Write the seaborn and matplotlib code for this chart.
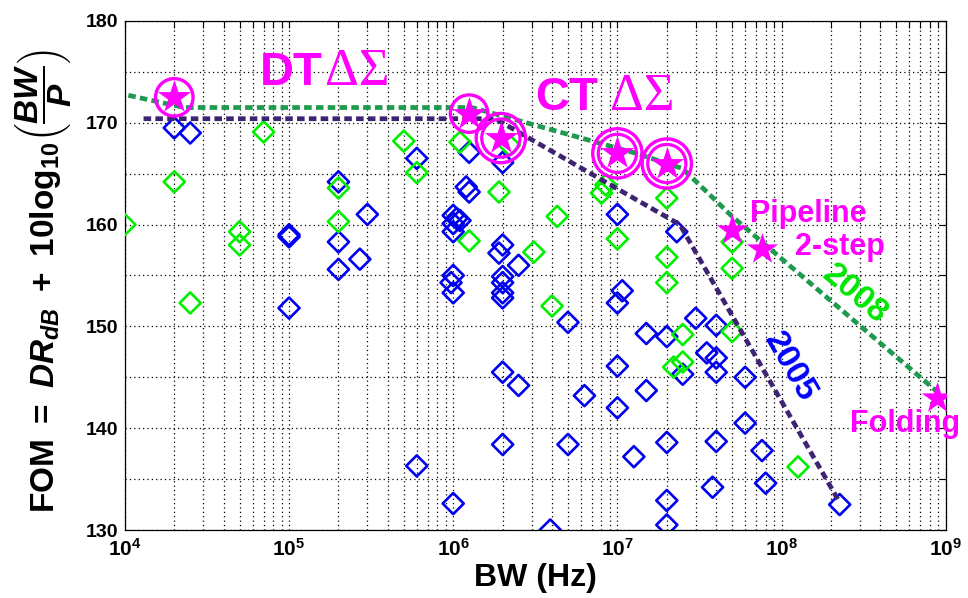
import matplotlib
matplotlib.use('Agg')
import matplotlib.pyplot as plt
from matplotlib.ticker import MultipleLocator, LogLocator
import seaborn as sns

# published ADCs (blue = older, green = newer)
blue_bw = [2e4, 2.5e4, 6e5, 1.25e6, 2e6, 2e5, 1.2e6, 1.25e6, 1e5, 1e5,
           2e5, 3e5, 2.7e5, 2e5, 1e6, 1.05e6, 1.1e6, 1e6, 1e6, 2e6,
           1.9e6, 2.5e6, 1e6, 2e6, 1e5, 0.97e6, 1e6, 2e6, 2e6, 2e6,
           2e6, 2.5e6, 2e6, 6e5, 1e6, 1e7, 2.3e7, 1.07e7, 1e7, 5e6,
           1.5e7, 2e7, 3e7, 4e7, 3.5e7, 4e7, 4e7, 2.5e7, 1e7, 6e7,
           6.3e6, 1.5e7, 1e7, 6e7, 5e6, 2e7, 4e7, 7.6e7, 1.26e7, 3.8e7,
           8e7, 2e7, 2.26e8, 3.9e6, 2e7]
blue_fom = [169.5, 169.0, 166.5, 167.1, 166.1, 164.2, 163.7, 163.2, 159.0, 158.8,
            158.3, 161.0, 156.6, 155.6, 160.9, 160.6, 160.4, 160.1, 159.3, 158.0,
            157.2, 156.0, 155.0, 154.9, 151.8, 154.3, 153.3, 154.3, 153.3, 152.8,
            145.5, 144.2, 138.4, 136.3, 132.6, 161.0, 159.3, 153.5, 152.3, 150.4,
            149.3, 149.0, 150.8, 150.1, 147.4, 146.9, 145.5, 145.3, 146.1, 145.0,
            143.2, 143.7, 142.0, 140.5, 138.4, 138.6, 138.7, 137.8, 137.2, 134.2,
            134.6, 132.9, 132.5, 130.0, 130.5]

green_bw = [7e4, 5e5, 6e5, 1.1e6, 2e4, 2e5, 1.9e6, 1e4, 5e4, 5e4,
            2e5, 1.25e6, 3.1e6, 2.5e4, 8e6, 8.5e6, 2e7, 4.3e6, 1e7, 2e7,
            5e7, 5e7, 2e7, 4e6, 2.5e7, 5e7, 2.2e7, 2.5e7, 1.26e8, 2.2e6]
green_fom = [169.1, 168.2, 165.1, 168.1, 164.2, 163.6, 163.2, 160.0, 159.3, 158.0,
             160.3, 158.4, 157.3, 152.3, 163.1, 163.9, 162.6, 160.8, 158.6, 156.8,
             158.3, 155.7, 154.3, 152.0, 149.2, 149.5, 146.0, 146.5, 136.2, 167.8]

# state-of-the-art envelopes
env05_bw = [1.3e4, 1.8e6, 2.4e7, 2.26e8]
env05_fom = [170.4, 170.4, 160.0, 132.7]
env08_bw = [1.05e4, 2.3e4, 1.3e6, 1.3e7, 2.5e7, 5e7, 9e8]
env08_fom = [172.7, 171.5, 171.5, 167.0, 165.5, 160.8, 143.5]

# highlighted delta-sigma designs
ring1_bw = [2e4, 1.25e6]
ring1_fom = [172.5, 170.9]
ring2_bw = [1.95e6, 1e7, 2e7]
ring2_fom = [168.5, 167.0, 166.0]
star_bw = ring1_bw + ring2_bw
star_fom = ring1_fom + ring2_fom
other_bw = [5e7, 7.6e7, 8.9e8]
other_fom = [159.5, 157.6, 143.0]

sns.set_style('white')
plt.rcParams['font.family'] = ['Liberation Sans', 'DejaVu Sans']
plt.rcParams['font.weight'] = 'bold'
plt.rcParams['axes.labelweight'] = 'bold'
plt.rcParams['text.color'] = 'black'
plt.rcParams['axes.labelcolor'] = 'black'
plt.rcParams['xtick.color'] = 'black'
plt.rcParams['ytick.color'] = 'black'
plt.rcParams['mathtext.fontset'] = 'custom'
plt.rcParams['mathtext.rm'] = 'Liberation Sans:bold'
plt.rcParams['mathtext.it'] = 'Liberation Sans:bold:italic'
plt.rcParams['mathtext.bf'] = 'Liberation Sans:bold'

magenta = '#ff00ff'

fig = plt.figure(figsize=(9.68, 5.98), dpi=100)
ax = fig.add_axes([0.129, 0.1137, 0.848, 0.8512])
ax.set_xscale('log')

sns.scatterplot(x=blue_bw, y=blue_fom, marker='D', s=115, facecolor='none',
                edgecolor='#0000f0', linewidth=1.9, ax=ax, zorder=3)
sns.scatterplot(x=green_bw, y=green_fom, marker='D', s=115, facecolor='none',
                edgecolor='#00f000', linewidth=1.9, ax=ax, zorder=3)

sns.lineplot(x=env05_bw, y=env05_fom, color='#3f2373', lw=3.4,
             linestyle=(0, (1.6, 0.9)), ax=ax, zorder=4)
sns.lineplot(x=env08_bw, y=env08_fom, color='#1e9a4e', lw=3.4,
             linestyle=(0, (1.6, 0.9)), ax=ax, zorder=4)

sns.scatterplot(x=ring1_bw, y=ring1_fom, marker='o', s=27**2, facecolor='none',
                edgecolor=magenta, linewidth=2.4, ax=ax, zorder=5)
sns.scatterplot(x=ring2_bw, y=ring2_fom, marker='o', s=27.5**2, facecolor='none',
                edgecolor=magenta, linewidth=2.3, ax=ax, zorder=5)
sns.scatterplot(x=ring2_bw, y=ring2_fom, marker='o', s=35.5**2, facecolor='none',
                edgecolor=magenta, linewidth=2.4, ax=ax, zorder=5)
sns.scatterplot(x=star_bw, y=star_fom, marker='*', s=640, color=magenta,
                linewidth=0, ax=ax, zorder=6)
sns.scatterplot(x=other_bw, y=other_fom, marker='*', s=560, color=magenta,
                linewidth=0, ax=ax, zorder=6)

ax.set_xlim(1e4, 1e9)
ax.set_ylim(130, 180)
ax.yaxis.set_major_locator(MultipleLocator(10))
ax.yaxis.set_minor_locator(MultipleLocator(5))
ax.xaxis.set_minor_locator(LogLocator(base=10, subs=range(2, 10), numticks=20))
ax.grid(which='both', color='black', linestyle=(0, (1, 2.5)), linewidth=0.9)
ax.set_axisbelow(True)
ax.tick_params(which='both', direction='in', top=True, right=True,
               length=5, width=0.8, color='black')
ax.tick_params(axis='x', labelsize=15, pad=6)
ax.tick_params(axis='y', labelsize=14, pad=5)
for sp in ax.spines.values():
    sp.set_color('black')
    sp.set_linewidth(0.9)

# annotations
ax.text(6.6e4, 173.7, 'DT', fontsize=34, color=magenta, weight='bold')
ax.text(1.65e5, 173.7, 'ΔΣ', fontsize=38, color=magenta, weight='normal',
        family='Liberation Serif')
ax.text(3.14e6, 171.3, 'CT', fontsize=34, color=magenta, weight='bold')
ax.text(9e6, 171.3, 'ΔΣ', fontsize=38, color=magenta, weight='normal',
        family='Liberation Serif')
ax.text(6.4e7, 160.25, 'Pipeline', fontsize=22, color=magenta)
ax.text(1.2e8, 157.0, '2-step', fontsize=22, color=magenta)
ax.text(2.6e8, 139.6, 'Folding', fontsize=22, color=magenta)
ax.text(2.8e8, 153.1, '2008', fontsize=24, color='#00e600', rotation=-40,
        rotation_mode='anchor', ha='center', va='center')
ax.text(1.12e8, 146.0, '2005', fontsize=24, color='#0000ff', rotation=-60,
        rotation_mode='anchor', ha='center', va='center')

ax.set_xlabel('BW (Hz)', fontsize=23, labelpad=2)
ax.set_ylabel(r'$\mathrm{FOM\ =\ }DR_{dB}\mathrm{\ +\ 10log_{10}}\left(\dfrac{BW}{P}\right)$',
              fontsize=24)
ax.yaxis.set_label_coords(-0.062, 0.49)

fig.savefig('out.png', dpi=100, facecolor='white')
